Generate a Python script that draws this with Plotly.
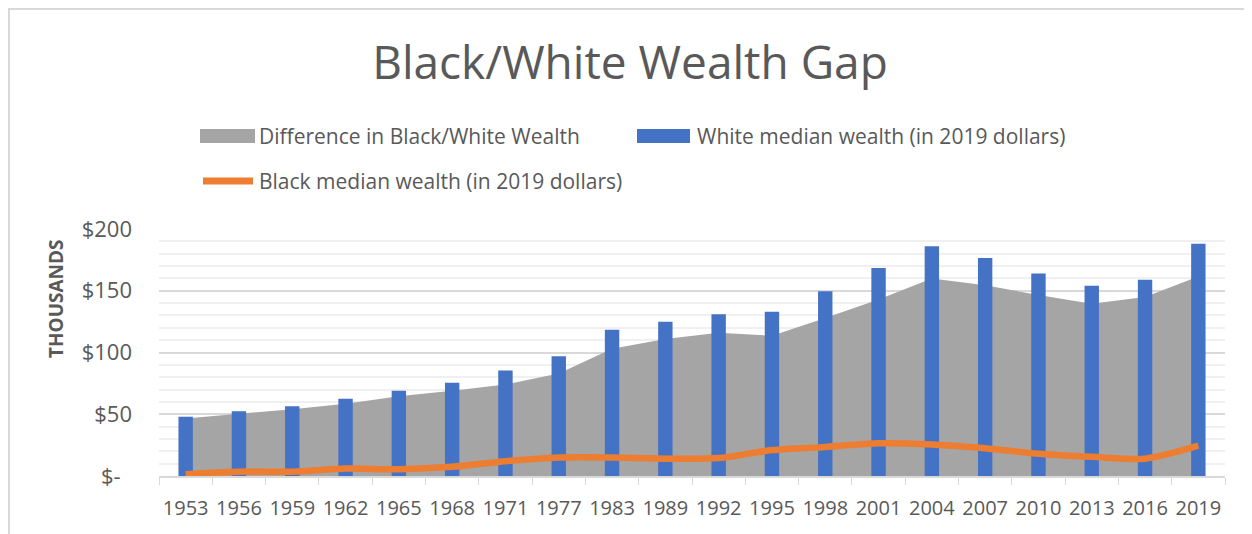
import plotly.graph_objects as go

years = ["1953", "1956", "1959", "1962", "1965", "1968", "1971", "1977", "1983", "1989",
         "1992", "1995", "1998", "2001", "2004", "2007", "2010", "2013", "2016", "2019"]
white = [48, 52.5, 56.5, 62.5, 69, 75.5, 85.5, 97, 118.5, 125,
         131, 133, 149.5, 168.5, 186, 176.5, 164, 154, 159, 188]
black = [1.5, 3.5, 3.5, 6, 5.5, 7.5, 12, 15, 15, 14,
         14.5, 21, 23.5, 26.5, 25.5, 22.5, 18, 15.5, 14, 24.5]
diff = [46.5, 50.5, 54, 58.5, 64.5, 69, 74, 83, 103, 111,
        116, 113.5, 128, 143, 160, 154.5, 146.5, 139.5, 145, 161.5]
ytick_vals = [0, 50, 100, 150, 200]
ytick_text = ["$-\u00a0\u00a0", "$50", "$100", "$150", "$200"]

GRAY = "#A5A5A5"
BLUE = "#4472C4"
ORANGE = "#ED7D31"
TXT = "#595959"
FONT = "Open Sans"

OFF = 8  # page body margin
FW, FH = 1252 - OFF, 534 - OFF
# plot area in page pixels
L, R, T, B = 159, 1225, 229, 476
W, H = R - L, B - T
XR = [-0.5, len(years) - 0.5]


def px(x):
    return (x - L) / W


def py(y):
    return (B - y) / H


fig = go.Figure()
fig.add_trace(go.Scatter(x=years, y=diff, mode="none", fill="tozeroy",
                         fillcolor=GRAY, name="Difference in Black/White Wealth",
                         xaxis="x", yaxis="y"))
fig.add_trace(go.Bar(x=years, y=white, width=0.27, marker_color=BLUE,
                     marker_line_width=0, name="White median wealth (in 2019 dollars)",
                     xaxis="x2", yaxis="y2"))
fig.add_trace(go.Scatter(x=years, y=black, mode="lines",
                         line=dict(color=ORANGE, width=6.5, shape="spline", smoothing=0.8),
                         name="Black median wealth (in 2019 dollars)",
                         xaxis="x2", yaxis="y2"))

shapes = [
    dict(type="rect", xref="paper", yref="paper", x0=px(9), x1=px(1262), y0=py(545), y1=py(9),
         line=dict(color="#D9D9D9", width=2), fillcolor="rgba(0,0,0,0)", layer="below"),
    dict(type="rect", xref="paper", yref="paper", x0=px(200), x1=px(255), y0=py(143), y1=py(129),
         line=dict(width=0), fillcolor=GRAY),
    dict(type="rect", xref="paper", yref="paper", x0=px(637), x1=px(690), y0=py(143), y1=py(129),
         line=dict(width=0), fillcolor=BLUE),
    dict(type="line", xref="paper", yref="paper", x0=px(203), x1=px(253), y0=py(181), y1=py(181),
         line=dict(color=ORANGE, width=7)),
]

LEG = dict(family=FONT, size=21, color=TXT)
annotations = [
    dict(text="Difference in Black/White Wealth", x=px(257), y=py(136), xref="paper", yref="paper",
         xanchor="left", yanchor="middle", showarrow=False, font=LEG),
    dict(text="White median wealth (in 2019 dollars)", x=px(695), y=py(136), xref="paper", yref="paper",
         xanchor="left", yanchor="middle", showarrow=False, font=LEG),
    dict(text="Black median wealth (in 2019 dollars)", x=px(257), y=py(181), xref="paper", yref="paper",
         xanchor="left", yanchor="middle", showarrow=False, font=LEG),
    dict(text="<b>THOUSANDS</b>", x=px(56), y=py(299), xref="paper", yref="paper",
         xanchor="center", yanchor="middle", textangle=-90, showarrow=False,
         font=dict(family=FONT, size=19, color=TXT)),
]

fig.update_layout(
    width=FW, height=FH,
    margin=dict(l=L - OFF, r=1252 - R, t=T - OFF, b=534 - B),
    paper_bgcolor="white", plot_bgcolor="white",
    showlegend=False,
    title=dict(text="Black/White Wealth Gap", x=(630 - OFF) / FW, xref="container", xanchor="center",
               y=1 - (63 - OFF) / FH, yref="container", yanchor="middle",
               font=dict(family=FONT, size=46, color=TXT)),
    font=dict(family=FONT, color=TXT),
    shapes=shapes,
    annotations=annotations,
    xaxis=dict(type="category", categoryorder="array", categoryarray=years, range=XR,
               showline=True, linecolor="#D9D9D9", linewidth=1.5,
               ticks="outside", tickson="boundaries", ticklen=7, tickcolor="#D9D9D9",
               showgrid=False, tickangle=0, automargin=False,
               tickfont=dict(family=FONT, size=20, color=TXT), ticklabelstandoff=13),
    yaxis=dict(range=[0, 200], tickvals=ytick_vals, ticktext=ytick_text, automargin=False,
               showgrid=True, gridcolor="#D9D9D9", gridwidth=1.5, zeroline=False,
               minor=dict(dtick=10, tick0=0, showgrid=True, gridcolor="#F0F0F0", gridwidth=1.5),
               tickfont=dict(family=FONT, size=22, color=TXT), ticklabelstandoff=26),
    xaxis2=dict(type="category", categoryorder="array", categoryarray=years, range=XR,
                overlaying="x", anchor="y2", visible=False, automargin=False),
    yaxis2=dict(range=[0, 200], overlaying="y", anchor="x2", visible=False, automargin=False),
)

fig.write_html("out.html")
